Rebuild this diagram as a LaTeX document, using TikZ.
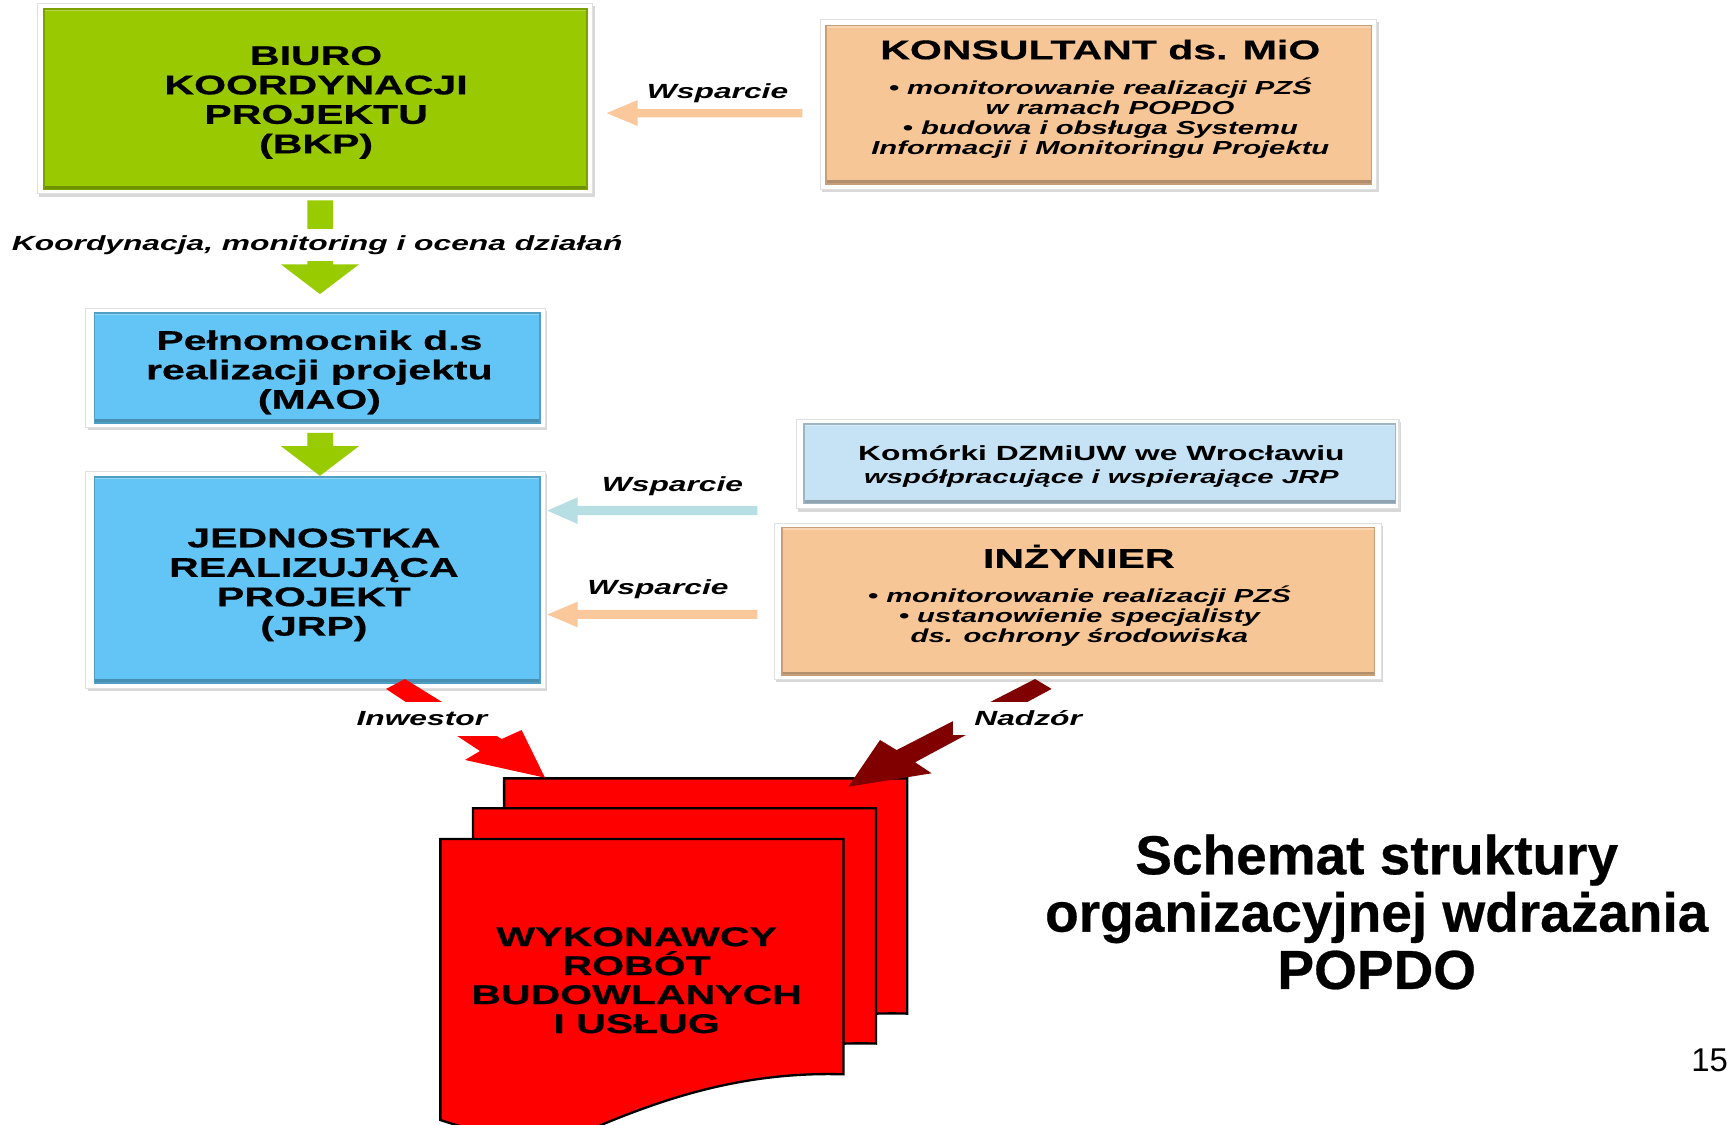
\documentclass[tikz,border=0pt]{standalone}
\usepackage{fontspec}
\setmainfont{Liberation Sans}
\newfontfamily\widefam[FakeStretch=1.55]{Liberation Sans}
\newfontfamily\heavyfam[FakeStretch=1.52, FakeBold=0.6]{Liberation Sans}
\newfontfamily\titlefam[FakeBold=0.5]{Liberation Sans}
\usetikzlibrary{shadows}
\definecolor{bkpgreen}{RGB}{153,201,0}
\definecolor{maoblue}{RGB}{99,197,245}
\definecolor{konsorange}{RGB}{247,198,150}
\definecolor{komblue}{RGB}{198,227,245}
\definecolor{arrgreen}{RGB}{153,204,0}
\definecolor{arrorange}{RGB}{251,200,155}
\definecolor{arrblue}{RGB}{183,222,227}
\definecolor{docred}{RGB}{255,0,0}
\definecolor{nadzred}{RGB}{128,0,0}
\newcommand\hdrfont{\heavyfam\bfseries\fontsize{6.97pt}{7.6pt}\selectfont}
\newcommand\itmfont{\widefam\bfseries\itshape\fontsize{4.87pt}{5.15pt}\selectfont}
\newcommand\lblfont{\widefam\bfseries\itshape\fontsize{5.29pt}{5.7pt}\selectfont}
\newcommand\komfont{\widefam\bfseries\fontsize{5.29pt}{5.7pt}\selectfont}
\begin{document}
\begin{tikzpicture}[x=0.01cm,y=-0.01cm,
  frame/.style={rectangle, inner sep=0pt, fill=white, draw=black!12, line width=0.3pt,
    drop shadow={shadow xshift=0.5pt, shadow yshift=-0.7pt, opacity=0.3}},
  inbox/.style={rectangle, inner sep=0pt, fill=#1, draw=#1!80!black, line width=0.4pt,
    path picture={\fill[#1!72!black] (path picture bounding box.south west) rectangle ([yshift=0.9pt]path picture bounding box.south east);
      \fill[#1!70!white] (path picture bounding box.north west) rectangle ([yshift=-0.6pt]path picture bounding box.north east);}},
  txt/.style={inner sep=0pt, align=center},
  hdr/.style={txt, font=\hdrfont},
  itm/.style={txt, font=\itmfont},
  lbl/.style={inner sep=0pt, font=\lblfont},
  cutlbl/.style={lbl, fill=white},
  blockarrow/.style={fill=#1, draw=none},
  docpage/.pic={\filldraw[fill=docred, draw=black, line width=0.6pt]
     (0,0) -- (366,0) -- (366,213.6) .. controls (280,211) and (210,233) .. (147,259.2)
     .. controls (90,283) and (40,268) .. (0,255.1) -- cycle;}
]
\useasboundingbox (0,0) rectangle (1568,1021);
\clip (0,0) rectangle (1568,1021);
\fill[white] (0,0) rectangle (1568,1021);

% frames
\node[frame, minimum width=5.04cm, minimum height=1.73cm] (bkpf) at (286,89.5) {};
\node[inbox=bkpgreen, minimum width=4.93cm, minimum height=1.64cm] (bkp) at (286.5,90) {};
\node[frame, minimum width=5.05cm, minimum height=1.54cm] (konsf) at (997.5,95) {};
\node[inbox=konsorange, minimum width=4.95cm, minimum height=1.44cm] (kons) at (997.5,95) {};
\node[frame, minimum width=4.17cm, minimum height=1.08cm] (maof) at (286.5,334) {};
\node[inbox=maoblue, minimum width=4.04cm, minimum height=1.00cm] (mao) at (288,334) {};
\node[frame, minimum width=4.17cm, minimum height=1.97cm] (jrpf) at (286.5,526.5) {};
\node[inbox=maoblue, minimum width=4.04cm, minimum height=1.87cm] (jrp) at (288,526.5) {};
\node[frame, minimum width=5.47cm, minimum height=0.81cm] (komf) at (996.5,421.5) {};
\node[inbox=komblue, minimum width=5.37cm, minimum height=0.72cm] (kom) at (998.5,421) {};
\node[frame, minimum width=5.51cm, minimum height=1.42cm] (inzf) at (978.5,546) {};
\node[inbox=konsorange, minimum width=5.38cm, minimum height=1.34cm] (inz) at (979,546) {};

% box texts
\node[hdr] (bkptxt) at (287,93) {BIURO\\KOORDYNACJI\\PROJEKTU\\(BKP)};
\node[hdr] (konshdr) at (999,45) {KONSULTANT ds. MiO};
\node[itm] (konsitm) at (999,107) {• monitorowanie realizacji PZŚ\\\hspace*{5pt}w ramach POPDO\\• budowa i obsługa Systemu\\Informacji i Monitoringu Projektu};
\node[hdr] (maotxt) at (290,338) {Pełnomocnik d.s\\realizacji projektu\\(MAO)};
\node[hdr] (jrptxt) at (285,531) {JEDNOSTKA\\REALIZUJĄCA\\PROJEKT\\(JRP)};
\node[txt, font=\komfont] (komtxt) at (1000,423.5) {Komórki DZMiUW we Wrocławiu\\{\itmfont współpracujące i wspierające JRP}};
\node[hdr] (inzhdr) at (979.5,505) {INŻYNIER};
\node[itm] (inzitm) at (980,559.5) {• monitorowanie realizacji PZŚ\\• ustanowienie specjalisty\\ds. ochrony środowiska};

% document stack
\pic (docback) at (457.7,706.7) {docpage};
\pic (docmid) at (429.4,733.9) {docpage};
\pic (docfront) at (399.8,761.8) {docpage};
\node[hdr, font=\heavyfam\bfseries\fontsize{6.97pt}{7.48pt}\selectfont] (doctxt) at (578,890) {WYKONAWCY\\ROBÓT\\BUDOWLANYCH\\I USŁUG};

% block arrows
\fill[blockarrow=arrgreen] (279,182) -- (302.5,182) -- (302.5,240) -- (326,240) -- (290.5,267) -- (255,240) -- (279,240) -- cycle;
\fill[blockarrow=arrgreen] (279,393) -- (302.5,393) -- (302.5,405) -- (326,405) -- (290.5,432) -- (255,405) -- (279,405) -- cycle;
\fill[blockarrow=arrorange] (728.5,99) -- (579,99) -- (579,90.8) -- (550.8,102.7) -- (579,114.4) -- (579,106.5) -- (728.5,106.5) -- cycle;
\fill[blockarrow=arrblue] (687.6,459.4) -- (524.5,459.4) -- (524.5,451.5) -- (497,463.6) -- (524.5,475.8) -- (524.5,467.6) -- (687.6,467.6) -- cycle;
\fill[blockarrow=arrorange] (687.6,553.8) -- (524.5,553.8) -- (524.5,546.3) -- (497,557.9) -- (524.5,569.6) -- (524.5,562) -- (687.6,562) -- cycle;
\fill[blockarrow=docred] (350.5,625.5) -- (367.7,616.5) -- (455.5,671) -- (473.6,662.8) -- (494.8,706.1) -- (422.2,690) -- (435.8,681.9) -- cycle;
\fill[blockarrow=nadzred] (939.8,616.5) -- (954.8,625.5) -- (830.8,692.1) -- (845.9,702.1) -- (770.2,714.3) -- (799,671.9) -- (814.1,681) -- cycle;

% labels
\node[cutlbl, minimum height=0.29cm, inner xsep=2pt] (koord) at (288,222.5) {Koordynacja, monitoring i ocena działań};
\node[lbl] (wsp1) at (651.5,85) {Wsparcie};
\node[lbl] (wsp2) at (610.6,441) {Wsparcie};
\node[lbl] (wsp3) at (597.4,535.3) {Wsparcie};
\node[cutlbl, minimum height=0.31cm, inner xsep=3pt] (inw) at (383,652.5) {Inwestor};
\node[cutlbl, minimum height=0.30cm, inner xsep=5.5pt] (nadz) at (933.5,652) {Nadzór};

% title and page number
\node[txt, font=\titlefam\bfseries\fontsize{14.2pt}{14.8pt}\selectfont] (title) at (1250,828) {Schemat struktury\\organizacyjnej wdrażania\\POPDO};
\node[inner sep=0pt, anchor=west, font=\fontsize{8.5pt}{9pt}\selectfont] (pagenum) at (1535,963) {15};
\end{tikzpicture}
\end{document}
